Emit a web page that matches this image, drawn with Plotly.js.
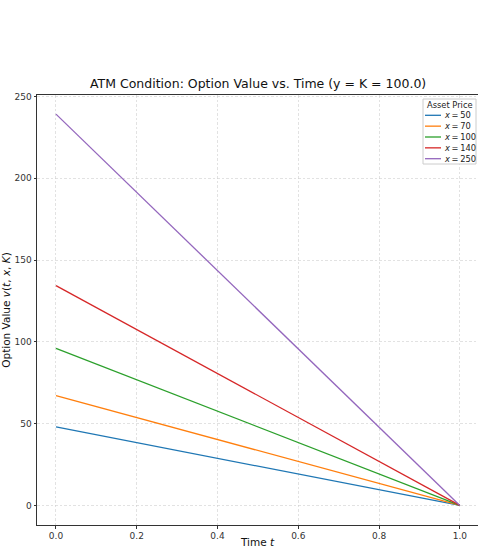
<!DOCTYPE html>
<html>
<head>
<meta charset="utf-8">
<script src="https://cdn.plot.ly/plotly-3.0.1.min.js"></script>
<style>html,body{margin:0;padding:0;background:#fff;}#chart{width:478px;height:548px;}</style>
</head>
<body>
<div id="chart"></div>
<script>
const times = [0.0, 1.0];
const assetPrices = [50, 70, 100, 140, 250];
const valuesX50 = [48.0, 0.0];
const valuesX70 = [67.2, 0.0];
const valuesX100 = [96.0, 0.0];
const valuesX140 = [134.4, 0.0];
const valuesX250 = [239.2, 0.0];
const seriesValues = [valuesX50, valuesX70, valuesX100, valuesX140, valuesX250];
const colors = ['#1f77b4', '#ff7f0e', '#2ca02c', '#d62728', '#9467bd'];
const xTicks = [0, 0.2, 0.4, 0.6, 0.8, 1.0];
const yTicks = [0, 50, 100, 150, 200, 250];
const legendTitle = 'Asset Price';

const label = p => '<i>x</i>\u2009=\u2009' + p;

const traces = assetPrices.map((p, i) => ({
  x: times, y: seriesValues[i], type: 'scatter', mode: 'lines',
  name: label(p),
  line: {color: colors[i], width: 1.3},
  showlegend: false
}));

// plot area in pixels (for placing the compact legend)
const PL = 37, PR = 478, PT = 95, PB = 525;
const px = v => (v - PL) / (PR - PL);
const py = v => (PB - v) / (PB - PT);

const shapes = [{
  type: 'rect', xref: 'paper', yref: 'paper',
  x0: px(423), x1: px(476), y0: py(164), y1: py(99),
  line: {color: '#cccccc', width: 1}, fillcolor: 'rgba(255,255,255,0.85)', layer: 'above'
}];
const annotations = [{
  xref: 'paper', yref: 'paper', x: px(449.5), y: py(105), xanchor: 'center', yanchor: 'middle',
  text: legendTitle, showarrow: false, font: {size: 8.3, color: '#222'}, borderpad: 0
}];
assetPrices.forEach((p, i) => {
  const yy = 115.3 + i * 10.85;
  shapes.push({type: 'line', xref: 'paper', yref: 'paper', x0: px(425), x1: px(441), y0: py(yy), y1: py(yy),
    line: {color: colors[i], width: 1.3}, layer: 'above'});
  annotations.push({xref: 'paper', yref: 'paper', x: px(442.5), y: py(yy), xanchor: 'left', yanchor: 'middle',
    text: label(p), showarrow: false, font: {size: 8.3, color: '#222'}, borderpad: 0});
});

const layout = {
  width: 478, height: 548,
  margin: {l: PL, r: 478 - PR, t: PT, b: 548 - PB},
  paper_bgcolor: '#fff', plot_bgcolor: '#fff',
  font: {family: 'DejaVu Sans, sans-serif', size: 10, color: '#222'},
  showlegend: false,
  title: {text: 'ATM Condition: Option Value vs. Time (y = K = 100.0)', font: {family: 'DejaVu Sans, sans-serif', size: 12.5, color: '#111'}, x: 0.54, xanchor: 'center', y: 0.848, yanchor: 'middle'},
  xaxis: {
    range: [-0.047, 1.045], tickvals: xTicks, tickformat: '.1f',
    showgrid: true, gridcolor: '#cfcfcf', griddash: '2.5px,2px', gridwidth: 0.6,
    zeroline: false, showline: true, linecolor: '#333', linewidth: 1, mirror: true,
    ticks: 'outside', ticklen: 2.5, tickcolor: '#333', tickfont: {size: 9, color: '#333'},
    title: {text: 'Time <i>t</i>', font: {size: 10.5, color: '#111'}, standoff: 12},
    automargin: false
  },
  yaxis: {
    range: [-11.96, 250.9], tickvals: yTicks,
    showgrid: true, gridcolor: '#cfcfcf', griddash: '2.5px,2px', gridwidth: 0.6,
    zeroline: false, showline: true, linecolor: '#333', linewidth: 1,
    ticks: 'outside', ticklen: 2.5, tickcolor: '#333', tickfont: {size: 9, color: '#333'},
    title: {text: 'Option Value <i>v</i>(<i>t</i>, <i>x</i>, <i>K</i>)', font: {size: 10.5, color: '#111'}, standoff: 1},
    automargin: false
  },
  shapes: shapes,
  annotations: annotations
};
Plotly.newPlot('chart', traces, layout, {displayModeBar: false, staticPlot: true});
</script>
</body>
</html>
